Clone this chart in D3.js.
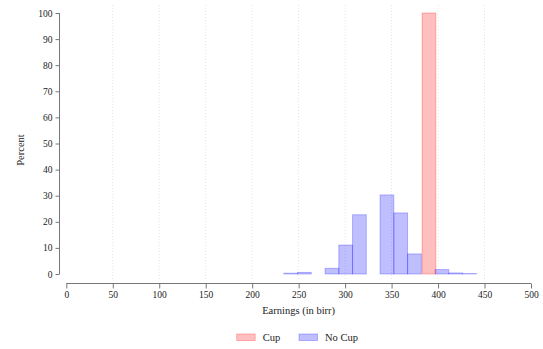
<!DOCTYPE html>
<html><head><meta charset="utf-8">
<script src="https://cdn.jsdelivr.net/npm/d3@7"></script>
<style>body{margin:0;background:#fff}svg{display:block}text{font-family:"Liberation Serif","DejaVu Serif",serif;fill:#222}</style>
</head><body><svg id="c" width="543" height="349"></svg>
<script>
const xTicks = [0,50,100,150,200,250,300,350,400,450,500];
const yTicks = [0,10,20,30,40,50,60,70,80,90,100];
const binWidth = 14.8;
const noCupLeft = [234,248.8,263.6,278.4,293.2,308,322.8,337.6,352.4,367.2,382,396.8,411.6,426.4];
const noCupPct  = [0.3,0.6,0,2.2,11.1,22.7,0,30.3,23.4,7.7,0,1.7,0.4,0.2];
const cupLeft = [382.8];
const cupPct  = [100];
const seriesNames = ["Cup","No Cup"];

const svg = d3.select("#c");
const x = d3.scaleLinear().domain([0,500]).range([66.3,531]);
const y = d3.scaleLinear().domain([0,100]).range([274,13]);

// grid
svg.append("g").selectAll("line").data(xTicks.filter(d=>d>0&&d<500)).join("line")
  .attr("x1",d=>x(d)).attr("x2",d=>x(d)).attr("y1",5).attr("y2",280)
  .attr("stroke","#dcdcdc").attr("stroke-width",0.8).attr("stroke-dasharray","1,2");

const bars = (left,pct,col)=>svg.append("g").selectAll("rect").data(left.map((l,i)=>({l,v:pct[i]})).filter(d=>d.v>0)).join("rect")
  .attr("x",d=>x(d.l)).attr("width",d=>x(d.l+binWidth)-x(d.l))
  .attr("y",d=>y(d.v)).attr("height",d=>y(0)-y(d.v))
  .attr("fill",col).attr("fill-opacity",0.25).attr("stroke",col).attr("stroke-opacity",0.25).attr("stroke-width",1);
bars(noCupLeft,noCupPct,"#0000ff");
bars(cupLeft,cupPct,"#ff0000");

// y axis
const ya = svg.append("g").attr("transform","translate(59.5,0)")
  .call(d3.axisLeft(y).tickValues(yTicks).tickSize(4).tickPadding(3));
// x axis
const xa = svg.append("g").attr("transform","translate(0,283.5)")
  .call(d3.axisBottom(x).tickValues(xTicks).tickSize(5).tickPadding(3));
[ya,xa].forEach(a=>{
  a.select(".domain").attr("stroke","#777");
  a.selectAll(".tick line").attr("stroke","#777");
  a.selectAll("text").attr("font-size",9.5).attr("fill","#222").style("font-family",'"Liberation Serif",serif');
});
ya.select(".domain").attr("d","M0,"+y(0)+"V"+y(100));
ya.selectAll(".tick line").attr("x2",-4);
xa.select(".domain").attr("d","M"+x(0)+",0H"+x(500));

svg.append("text").attr("transform","translate(24,150) rotate(-90)").attr("text-anchor","middle")
  .attr("font-size",10.5).text("Percent");
svg.append("text").attr("x",(x(0)+x(500))/2).attr("y",314).attr("text-anchor","middle")
  .attr("font-size",10.5).text("Earnings (in birr)");

// legend
const lg = svg.append("g");
const cols = ["#ff0000","#0000ff"];
const lx = [236.7,299];
seriesNames.forEach((n,i)=>{
  lg.append("rect").attr("x",lx[i]).attr("y",334).attr("width",18.5).attr("height",6.5)
    .attr("fill",cols[i]).attr("fill-opacity",0.25).attr("stroke",cols[i]).attr("stroke-opacity",0.25);
  lg.append("text").attr("x",lx[i]+26).attr("y",340.5).attr("font-size",10.5).text(n);
});
</script></body></html>
